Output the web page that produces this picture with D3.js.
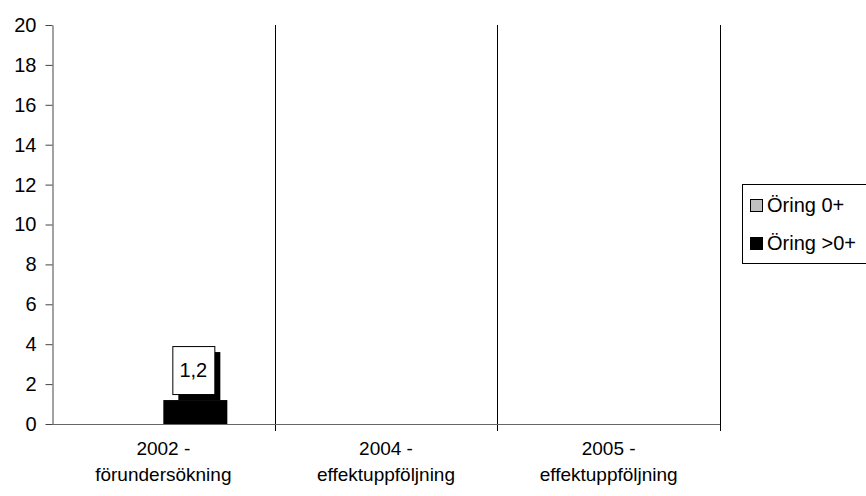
<!DOCTYPE html>
<html>
<head>
<meta charset="utf-8">
<script src="https://cdn.jsdelivr.net/npm/d3@7"></script>
<style>
  body { margin: 0; background: #fff; }
  svg { display: block; font-family: "Liberation Sans", Arial, sans-serif; }
</style>
</head>
<body>
<svg id="chart" width="866" height="496"></svg>
<script>
// Fish density per survey occasion
const categories = ["2002 - förundersökning", "2004 - effektuppföljning", "2005 - effektuppföljning"];
const categoryLines = [["2002 -", "förundersökning"], ["2004 -", "effektuppföljning"], ["2005 -", "effektuppföljning"]];
const seriesNames = ["Öring 0+", "Öring >0+"];
const seriesColors = ["#c0c0c0", "#000000"];
const oring0 = [0, null, null];
const oringOver0 = [1.2, null, null];
const yTicks = [0, 2, 4, 6, 8, 10, 12, 14, 16, 18, 20];

const series = [oring0, oringOver0];
const fontSize = 20;

const svg = d3.select("#chart");
const margin = { left: 52, right: 720, top: 25, bottom: 424 };

const x = d3.scaleBand().domain(categories).range([margin.left, margin.right]).paddingInner(0).paddingOuter(0);
const inner = d3.scaleBand().domain(d3.range(series.length)).range([0, 128]);
const y = d3.scaleLinear().domain([0, 20]).range([margin.bottom, margin.top]);

// category dividers
svg.append("g").selectAll("line")
  .data(categories)
  .join("line")
  .attr("x1", d => Math.round(x(d) + x.bandwidth()) + 0.5)
  .attr("x2", d => Math.round(x(d) + x.bandwidth()) + 0.5)
  .attr("y1", margin.top)
  .attr("y2", margin.bottom + 7)
  .attr("stroke", "#000")
  .attr("stroke-width", 1);

// y axis
const yAxis = svg.append("g")
  .attr("transform", `translate(${margin.left + 0.5},0)`)
  .call(d3.axisLeft(y).tickValues(yTicks).tickSize(7).tickPadding(9).tickSizeOuter(0));
yAxis.select(".domain").attr("stroke", "#444");
yAxis.selectAll(".tick line").attr("stroke", "#444");
yAxis.selectAll(".tick text").attr("font-size", fontSize).attr("fill", "#000")
  .attr("font-family", "'Liberation Sans', Arial, sans-serif");

// bars
const barData = [];
categories.forEach((c, i) => {
  series.forEach((s, j) => {
    if (s[i] != null) barData.push({ cat: c, s: j, v: s[i] });
  });
});
const barX = d => x(d.cat) + x.bandwidth() / 2 - inner.bandwidth() * series.length / 2 + inner(d.s);
svg.append("g").selectAll("rect")
  .data(barData.filter(d => d.v > 0))
  .join("rect")
  .attr("x", barX)
  .attr("y", d => y(d.v))
  .attr("width", inner.bandwidth())
  .attr("height", d => y(0) - y(d.v))
  .attr("fill", d => seriesColors[d.s]);

// x axis line
svg.append("line")
  .attr("x1", margin.left).attr("x2", margin.right)
  .attr("y1", margin.bottom + 0.5).attr("y2", margin.bottom + 0.5)
  .attr("stroke", "#666");

// category labels
const catLabels = svg.append("g").selectAll("text")
  .data(categories)
  .join("text")
  .attr("x", d => x(d) + x.bandwidth() / 2)
  .attr("y", 455)
  .attr("text-anchor", "middle")
  .attr("font-size", fontSize - 1)
  .attr("fill", "#000");
catLabels.each(function(d, i) {
  const t = d3.select(this);
  categoryLines[i].forEach((line, k) => {
    t.append("tspan").attr("x", x(d) + x.bandwidth() / 2).attr("dy", k === 0 ? 0 : 26).text(line);
  });
});

// value labels with drop shadow
const labelData = barData.filter(d => d.v > 0);
const lbl = svg.append("g").selectAll("g")
  .data(labelData)
  .join("g")
  .attr("transform", d => `translate(${barX(d) + inner.bandwidth() / 2},${y(d.v) - 6})`);
lbl.append("rect")
  .attr("x", -23 + 6).attr("y", -48 + 6).attr("width", 42).attr("height", 48)
  .attr("fill", "#000");
lbl.append("rect")
  .attr("x", -23 + 0.5).attr("y", -48 + 0.5).attr("width", 42).attr("height", 48)
  .attr("fill", "#fff").attr("stroke", "#000").attr("stroke-width", 1);
lbl.append("text")
  .attr("x", -2).attr("y", -17)
  .attr("text-anchor", "middle")
  .attr("font-size", fontSize)
  .text(d => d3.format(".1f")(d.v).replace(".", ","));

// legend
const legend = svg.append("g").attr("transform", "translate(742,184)");
legend.append("rect")
  .attr("x", 0.5).attr("y", 0.5).attr("width", 140).attr("height", 79)
  .attr("fill", "#fff").attr("stroke", "#000");
const items = legend.selectAll("g.item")
  .data(seriesNames)
  .join("g")
  .attr("class", "item")
  .attr("transform", (d, i) => `translate(8,${15 + i * 38})`);
items.append("rect")
  .attr("x", 0.5).attr("y", 0.5).attr("width", 12).attr("height", 12)
  .attr("fill", (d, i) => seriesColors[i])
  .attr("stroke", "#000");
items.append("text")
  .attr("x", 17).attr("y", 13)
  .attr("font-size", fontSize)
  .text(d => d);
</script>
</body>
</html>
